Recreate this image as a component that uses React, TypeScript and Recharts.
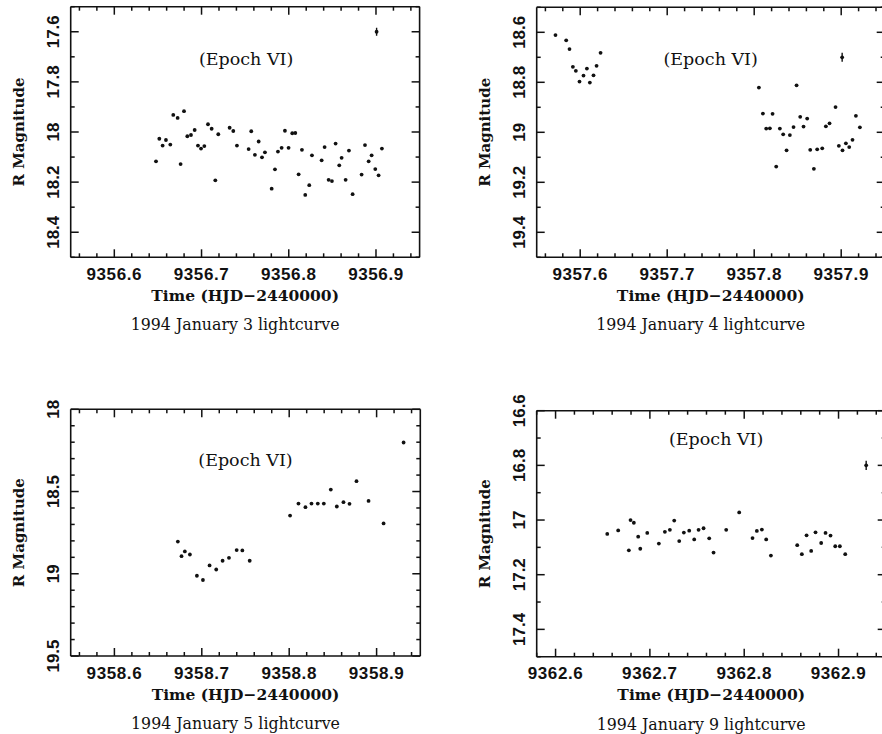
import React from 'react';
import { ScatterChart, Scatter, XAxis, YAxis, ErrorBar } from 'recharts';

// 1994 January 3
const jan3Time = [
  9356.6478, 9356.6516, 9356.6554, 9356.6592, 9356.6642, 9356.6676, 9356.6726, 9356.676,
  9356.6799, 9356.6837, 9356.6879, 9356.6921, 9356.6959, 9356.6994, 9356.7032, 9356.7074,
  9356.7116, 9356.7158, 9356.7192, 9356.7322, 9356.7364, 9356.7406, 9356.754, 9356.757,
  9356.7612, 9356.7655, 9356.7693, 9356.7727, 9356.7804, 9356.7842, 9356.7876, 9356.7918,
  9356.7956, 9356.7998, 9356.804, 9356.8075, 9356.8113, 9356.8151, 9356.8189, 9356.8235,
  9356.8266, 9356.8377, 9356.8411, 9356.8457, 9356.8495, 9356.8537, 9356.8579, 9356.8606,
  9356.8652, 9356.869, 9356.8732, 9356.8835, 9356.8874, 9356.8916, 9356.895, 9356.8992,
  9356.903, 9356.9068,
];
const jan3Mag = [
  18.117, 18.027, 18.054, 18.032, 18.05, 17.932, 17.944, 18.128,
  17.917, 18.017, 18.012, 17.992, 18.054, 18.066, 18.056, 17.969,
  17.987, 18.193, 18.009, 17.983, 17.996, 18.054, 18.068, 17.997,
  18.091, 18.038, 18.101, 18.081, 18.226, 18.149, 18.078, 18.063,
  17.995, 18.063, 18.005, 18.004, 18.169, 18.071, 18.251, 18.212,
  18.093, 18.113, 18.06, 18.191, 18.196, 18.046, 18.133, 18.103,
  18.191, 18.074, 18.248, 18.17, 18.052, 18.117, 18.093, 18.148,
  18.173, 18.066,
];
const jan3Ref = { time: 9356.9007, mag: 17.6, err: 0.016 };

// 1994 January 4
const jan4Time = [
  9357.5716, 9357.5839, 9357.5877, 9357.5916, 9357.595, 9357.5992, 9357.6038, 9357.6077,
  9357.6111, 9357.6153, 9357.6188, 9357.6234,
  9357.8054, 9357.81, 9357.8138, 9357.818, 9357.8211, 9357.8253, 9357.8295, 9357.8333,
  9357.8372, 9357.841, 9357.8452, 9357.8487, 9357.8529, 9357.8567, 9357.8609, 9357.8644,
  9357.8686, 9357.8724, 9357.8782, 9357.8824, 9357.8866, 9357.8935, 9357.8973, 9357.9015,
  9357.9054, 9357.9092, 9357.913, 9357.9169, 9357.9215,
];
const jan4Mag = [
  18.611, 18.632, 18.667, 18.738, 18.754, 18.797, 18.773, 18.745,
  18.801, 18.772, 18.734, 18.682,
  18.821, 18.925, 18.985, 18.984, 18.926, 19.137, 18.985, 19.008,
  19.072, 19.011, 18.979, 18.812, 18.938, 18.977, 18.945, 19.07,
  19.146, 19.068, 19.064, 18.976, 18.964, 18.899, 19.054, 19.072,
  19.044, 19.059, 19.03, 18.934, 18.98,
];
const jan4Ref = { time: 9357.9011, mag: 18.7, err: 0.018 };

// 1994 January 5
const jan5Time = [
  9358.6726, 9358.6768, 9358.6806, 9358.6864, 9358.6944, 9358.7013, 9358.7089, 9358.7165,
  9358.7238, 9358.7311, 9358.7399, 9358.7464, 9358.7548,
  9358.801, 9358.8106, 9358.8186, 9358.8255, 9358.8327, 9358.8396, 9358.8476, 9358.8545,
  9358.8621, 9358.869, 9358.877, 9358.8908, 9358.908, 9358.9309,
];
const jan5Mag = [
  18.804, 18.893, 18.864, 18.883, 19.012, 19.038, 18.949, 18.974,
  18.921, 18.903, 18.856, 18.858, 18.921,
  18.646, 18.573, 18.595, 18.573, 18.573, 18.573, 18.488, 18.591,
  18.565, 18.575, 18.437, 18.557, 18.694, 18.202,
];

// 1994 January 9
const jan9Time = [
  9362.6548, 9362.6664, 9362.6777, 9362.6795, 9362.683, 9362.6876, 9362.6898, 9362.6972,
  9362.7095, 9362.7159, 9362.7212, 9362.7258, 9362.7311, 9362.736, 9362.7417, 9362.747,
  9362.7516, 9362.7569, 9362.7629, 9362.7675, 9362.7809, 9362.7947, 9362.8088, 9362.8134,
  9362.8187, 9362.8233, 9362.8283, 9362.8562, 9362.8611, 9362.8661, 9362.871, 9362.8756,
  9362.8816, 9362.8862, 9362.8915, 9362.8965, 9362.9014, 9362.9071,
];
const jan9Mag = [
  17.051, 17.038, 17.111, 17.0, 17.01, 17.061, 17.105, 17.047,
  17.086, 17.043, 17.036, 17.002, 17.077, 17.046, 17.039, 17.071,
  17.036, 17.03, 17.067, 17.119, 17.036, 16.972, 17.066, 17.04,
  17.035, 17.071, 17.13, 17.092, 17.125, 17.056, 17.113, 17.045,
  17.084, 17.047, 17.057, 17.096, 17.096, 17.125,
];
const jan9Ref = { time: 9362.9293, mag: 16.8, err: 0.017 };

// tick labels
const jan3XLabels = [9356.6, 9356.7, 9356.8, 9356.9];
const jan4XLabels = [9357.6, 9357.7, 9357.8, 9357.9];
const jan5XLabels = [9358.6, 9358.7, 9358.8, 9358.9];
const jan9XLabels = [9362.6, 9362.7, 9362.8, 9362.9];
const jan3YLabels = [17.6, 17.8, 18, 18.2, 18.4];
const jan4YLabels = [18.6, 18.8, 19, 19.2, 19.4];
const jan5YLabels = [18, 18.5, 19, 19.5];
const jan9YLabels = [16.6, 16.8, 17, 17.2, 17.4];

const INK = '#111';
const TICK_FONT = '"Liberation Sans", Arial, sans-serif';
const SERIF = '"DejaVu Serif", serif';

type Pt = { x: number; y: number; err?: number };

const zip = (t: number[], m: number[]): Pt[] => t.map((x, i) => ({ x, y: m[i] }));

// minor tick positions: multiples of step inside the domain (majors fall on some of them)
const tickRange = (lo: number, hi: number, step: number) => {
  const out: number[] = [];
  const first = Math.ceil(lo / step - 1e-6);
  const last = Math.floor(hi / step + 1e-6);
  for (let i = first; i <= last; i++) out.push(Math.round(i * step * 1000) / 1000);
  return out;
};

const isMajor = (v: number, majors: number[]) => majors.some((m) => Math.abs(m - v) < 1e-6);

const Dot = (p: any) => <circle cx={p.cx} cy={p.cy} r={1.9} fill={INK} />;

interface PanelProps {
  left: number;
  top: number;
  width: number;
  height: number;
  margin: { top: number; right: number; bottom: number; left: number };
  xDomain: [number, number];
  xLabels: number[];
  yDomain: [number, number];
  yLabels: number[];
  points: Pt[];
  refPoint?: Pt;
  caption: string;
  epochDx: number;
  epochDy: number;
}

// axes are 1px thick so they still render; margins below are the plot box minus that pixel
const AX = 1;

const Panel = (props: PanelProps) => {
  const { left, top, width, height, xDomain, xLabels, yDomain, yLabels, points, refPoint, caption } = props;
  const plot = props.margin;
  const margin = { top: plot.top - AX, right: plot.right - AX, bottom: plot.bottom - AX, left: plot.left - AX };
  const xTicks = tickRange(xDomain[0], xDomain[1], 0.02);
  const yTicks = tickRange(yDomain[0], yDomain[1], 0.1);
  const plotW = width - plot.left - plot.right;

  const bottomTick = ({ x, y, payload }: any) => {
    const major = isMajor(payload.value, xLabels);
    return (
      <g>
        <line x1={x} x2={x} y1={y} y2={y - (major ? 8 : 4)} stroke={INK} strokeWidth={1.5} />
        {major && (
          <text x={x} y={y + 17} textAnchor="middle" dominantBaseline="central" fill={INK}
            fontFamily={TICK_FONT} fontWeight="bold" fontSize={17} letterSpacing={0.6}>
            {String(payload.value)}
          </text>
        )}
      </g>
    );
  };
  const topTick = ({ x, y, payload }: any) => {
    const major = isMajor(payload.value, xLabels);
    return <line x1={x} x2={x} y1={y} y2={y + (major ? 8 : 4)} stroke={INK} strokeWidth={1.5} />;
  };
  const leftTick = ({ x, y, payload }: any) => {
    const major = isMajor(payload.value, yLabels);
    return (
      <g>
        <line x1={x} x2={x + (major ? 8 : 4)} y1={y} y2={y} stroke={INK} strokeWidth={1.5} />
        {major && (
          <text x={x - 17} y={y} transform={`rotate(-90 ${x - 17} ${y})`} textAnchor="middle"
            dominantBaseline="central" fill={INK} fontFamily={TICK_FONT} fontWeight="bold" fontSize={17}>
            {String(payload.value)}
          </text>
        )}
      </g>
    );
  };
  const rightTick = ({ x, y, payload }: any) => {
    const major = isMajor(payload.value, yLabels);
    return <line x1={x} x2={x - (major ? 8 : 4)} y1={y} y2={y} stroke={INK} strokeWidth={1.5} />;
  };

  const xTitle = ({ viewBox }: any) => (
    <text x={viewBox.x + viewBox.width / 2} y={viewBox.y + 38} textAnchor="middle" dominantBaseline="central"
      fill={INK} fontFamily={SERIF} fontWeight="bold" fontSize={15.5}>
      Time (HJD−2440000)
    </text>
  );
  const yTitle = ({ viewBox }: any) => {
    const cx = viewBox.x + viewBox.width - 52;
    const cy = viewBox.y + viewBox.height / 2;
    return (
      <text x={cx} y={cy} transform={`rotate(-90 ${cx} ${cy})`} textAnchor="middle" dominantBaseline="central"
        fill={INK} fontFamily={SERIF} fontWeight="bold" fontSize={15}>
        R Magnitude
      </text>
    );
  };

  const axisLine = { stroke: INK, strokeWidth: 1.6 };

  return (
    <div style={{ position: 'absolute', left, top, width, height }}>
      <ScatterChart width={width} height={height} margin={margin}>
        <XAxis xAxisId="b" type="number" dataKey="x" domain={xDomain} allowDataOverflow ticks={xTicks}
          interval={0} tick={bottomTick} tickLine={false} tickSize={0} tickMargin={0} height={AX}
          axisLine={axisLine} label={{ content: xTitle }} />
        <XAxis xAxisId="t" orientation="top" type="number" dataKey="x" domain={xDomain} allowDataOverflow
          ticks={xTicks} interval={0} tick={topTick} tickLine={false} tickSize={0} tickMargin={0} height={AX}
          axisLine={axisLine} />
        <YAxis yAxisId="l" type="number" dataKey="y" domain={yDomain} reversed allowDataOverflow ticks={yTicks}
          interval={0} tick={leftTick} tickLine={false} tickSize={0} tickMargin={0} width={AX}
          axisLine={axisLine} label={{ content: yTitle }} />
        <YAxis yAxisId="r" orientation="right" type="number" dataKey="y" domain={yDomain} reversed allowDataOverflow
          ticks={yTicks} interval={0} tick={rightTick} tickLine={false} tickSize={0} tickMargin={0} width={AX}
          axisLine={axisLine} />
        <Scatter xAxisId="b" yAxisId="l" data={points} shape={Dot} isAnimationActive={false} />
        {refPoint && (
          <Scatter xAxisId="b" yAxisId="l" data={[refPoint]} shape={Dot} isAnimationActive={false}>
            <ErrorBar dataKey="err" direction="y" width={0} stroke={INK} strokeWidth={1.4} isAnimationActive={false} />
          </Scatter>
        )}
      </ScatterChart>
      <div style={{
        position: 'absolute', left: plot.left + plotW / 2 + props.epochDx, top: plot.top + props.epochDy,
        transform: 'translate(-50%, -50%)', whiteSpace: 'nowrap', fontFamily: SERIF, fontSize: 17.5, color: INK,
      }}>
        (Epoch VI)
      </div>
      <div style={{
        position: 'absolute', left: plot.left + plotW / 2 - 10, top: height - plot.bottom + 67,
        transform: 'translate(-50%, -50%)', whiteSpace: 'nowrap', fontFamily: SERIF, fontSize: 15.8, color: INK,
      }}>
        {caption}
      </div>
    </div>
  );
};

export default function App() {
  return (
    <div style={{ position: 'absolute', left: 0, top: 0, width: 882, height: 734, overflow: 'hidden', background: '#fff' }}>
      <Panel left={0} top={0} width={441} height={367}
        margin={{ top: 6.7, right: 21.4, bottom: 109.7, left: 70.7 }}
        xDomain={[9356.55, 9356.95]} xLabels={jan3XLabels} yDomain={[17.5, 18.5]} yLabels={jan3YLabels}
        points={zip(jan3Time, jan3Mag)} refPoint={{ x: jan3Ref.time, y: jan3Ref.mag, err: jan3Ref.err }}
        caption="1994 January 3 lightcurve" epochDx={1} epochDy={52.6} />
      <Panel left={441} top={0} width={450} height={367}
        margin={{ top: 7.3, right: 6.3, bottom: 109.7, left: 95.7 }}
        xDomain={[9357.55, 9357.95]} xLabels={jan4XLabels} yDomain={[18.5, 19.5]} yLabels={jan4YLabels}
        points={zip(jan4Time, jan4Mag)} refPoint={{ x: jan4Ref.time, y: jan4Ref.mag, err: jan4Ref.err }}
        caption="1994 January 4 lightcurve" epochDx={0} epochDy={52} />
      <Panel left={0} top={367} width={441} height={367}
        margin={{ top: 42.3, right: 20.7, bottom: 78, left: 70.7 }}
        xDomain={[9358.55, 9358.95]} xLabels={jan5XLabels} yDomain={[18, 19.5]} yLabels={jan5YLabels}
        points={zip(jan5Time, jan5Mag)}
        caption="1994 January 5 lightcurve" epochDx={0} epochDy={50.7} />
      <Panel left={441} top={367} width={450} height={367}
        margin={{ top: 43.7, right: 5.3, bottom: 77.3, left: 95.7 }}
        xDomain={[9362.58, 9362.95]} xLabels={jan9XLabels} yDomain={[16.6, 17.5]} yLabels={jan9YLabels}
        points={zip(jan9Time, jan9Mag)} refPoint={{ x: jan9Ref.time, y: jan9Ref.mag, err: jan9Ref.err }}
        caption="1994 January 9 lightcurve" epochDx={5} epochDy={28.3} />
    </div>
  );
}
